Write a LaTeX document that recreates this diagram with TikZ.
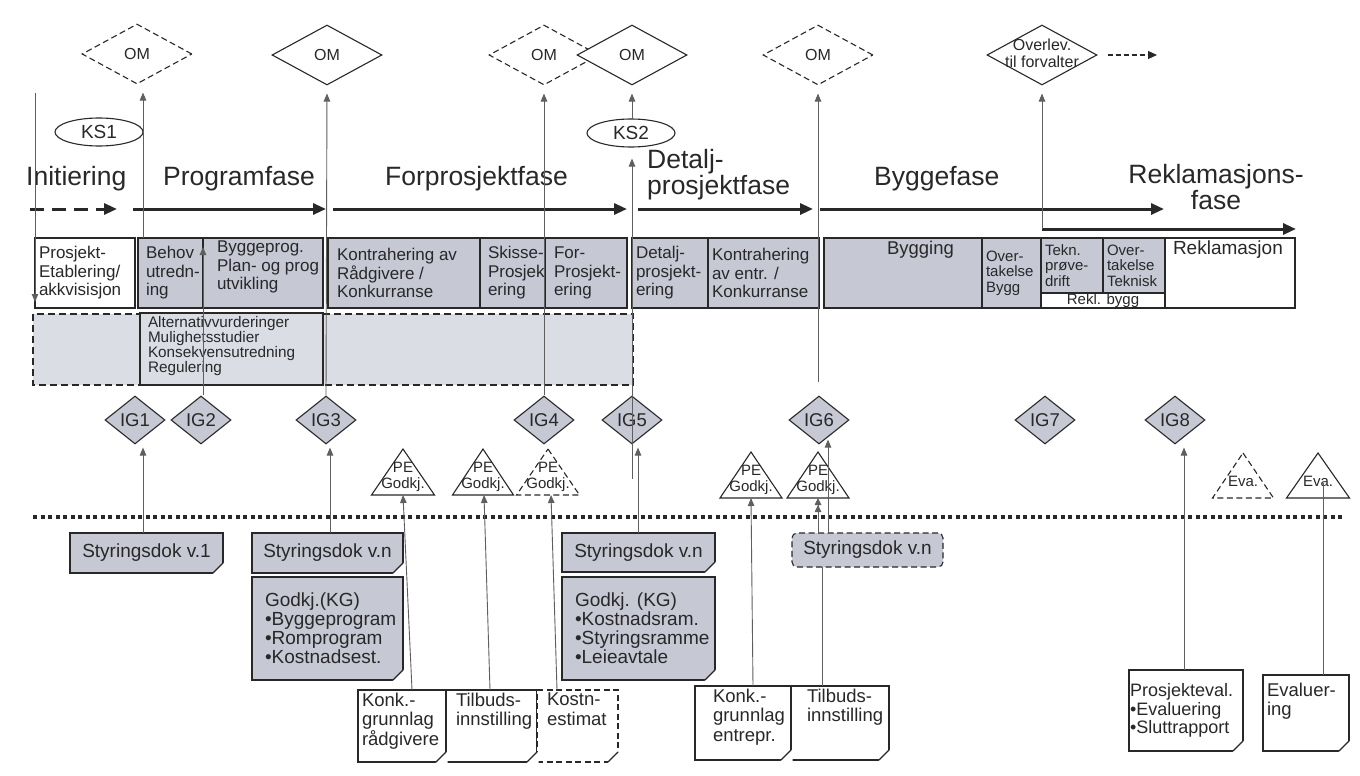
\documentclass[tikz,border=0pt]{standalone}
\usepackage{fontspec}
\setmainfont{Liberation Sans}
\usetikzlibrary{arrows.meta,shapes.geometric,calc}

\definecolor{ink}{RGB}{40,40,40}
\definecolor{wire}{RGB}{95,95,95}
\definecolor{boxgray}{RGB}{198,200,212}
\definecolor{areagray}{RGB}{219,221,229}

\newcommand\fsz[2]{\fontsize{#1pt}{#2pt}\selectfont}
\newcommand\rowfont{\fsz{17}{18.5}}

% box from its corners: #1 name, #2 style, #3 vertical text position (t/c/b),
% #4,#5 top-left corner, #6,#7 bottom-right corner, #8 text
\newcommand\pbox[8]{%
  \pgfmathsetmacro\boxw{#6-#4-8}%
  \pgfmathsetmacro\boxh{#7-#5-6}%
  \node[#2, anchor=north west, inner xsep=4pt, inner ysep=3pt, outer sep=0pt] (#1) at (#4,#5)
    {\parbox[c][\boxh pt][#3]{\boxw pt}{#8}};%
}

% folded lower-right corner of a document box
\newcommand\fold[2][]{%
  \fill[white] ($(#2.south east)+(-11,1.5)$) -- ($(#2.south east)+(1.5,1.5)$) -- ($(#2.south east)+(1.5,-11)$) -- cycle;
  \draw[ink, line width=1.1pt, line join=round, #1] ($(#2.south east)+(-10,0)$) -- ($(#2.south east)+(0,-10)$)
     .. controls ($(#2.south east)+(-6,-4)$) .. ($(#2.south east)+(-10,0)$);
}

% triangle marker: #2 x of apex, #3 y of apex, #4 y of base, #5 half base width
\newcommand\tri[5][]{\draw[frame,#1] (#2,#3) -- (#2+#5,#4) -- (#2-#5,#4) -- cycle;}

\tikzset{
  every node/.style={text=ink},
  frame/.style={draw=ink, line width=1.1pt},
  dashline/.style={dash pattern=on 6pt off 3.5pt},
  grayframe/.style={frame, fill=boxgray},
  whiteframe/.style={frame, fill=white},
  phase/.style={draw=ink, line width=3pt, -{Triangle[length=13pt,width=11pt]}},
  wire/.style={draw=wire, line width=0.9pt},
  wirearrow/.style={wire, -{Triangle[length=8pt,width=6.5pt]}, shorten >=#1},
  wirearrow/.default=0pt,
  omd/.style={diamond, frame, fill=white, minimum width=110pt, minimum height=60pt, inner sep=0pt,
              font=\fsz{16}{17}, align=center},
  igd/.style={diamond, frame, fill=boxgray, minimum width=60pt, minimum height=48pt, inner sep=0pt,
              font=\fsz{18.5}{19}},
  ksell/.style={ellipse, frame, fill=white, minimum width=88pt, minimum height=28pt, inner sep=0pt,
              font=\fsz{19}{20}},
  phasetext/.style={inner sep=0pt, font=\fsz{26.5}{26}},
  tritext/.style={inner sep=0pt, font=\fsz{15}{15.5}, align=center},
}

\begin{document}
\begin{tikzpicture}[x=1pt,y=-1pt]
\useasboundingbox (0,0) rectangle (1360,776);
\fill[white] (0,0) rectangle (1360,776);

% ---------- activity area of the early phases ----------
\path[draw=ink, line width=1.1pt, dash pattern=on 7pt off 4pt, fill=areagray] (33,314) rectangle (633,385);
\pbox{alt}{frame, fill=areagray}{t}{140}{313}{323}{385}{\fsz{15.3}{15}\leftskip=4pt Alternativvurderinger\\Mulighetsstudier\\Konsekvensutredning\\Regulering}

% ---------- activity row ----------
\pbox{etab}{whiteframe}{c}{35}{238}{135}{308}{\rowfont Prosjekt-\\Etablering/\\akkvisisjon}
\pbox{behov}{grayframe}{c}{138}{238}{203}{308}{\rowfont\leftskip=4pt Behov\\\mbox{utredn-}\\ing}
\pbox{bprog}{grayframe}{t}{203}{238}{323}{308}{\rowfont\leftskip=10pt Byggeprog.\\Plan- og prog\\utvikling}
\pbox{kontr}{grayframe}{c}{328}{238}{480}{308}{\rowfont\leftskip=5pt Kontrahering av\\Rådgivere /\\Konkurranse}
\pbox{skisse}{grayframe}{c}{480}{238}{545}{308}{\rowfont\leftskip=4pt \mbox{Skisse-}\\\mbox{Prosjekt}\\\mbox{ering}}
\pbox{forpr}{grayframe}{c}{545}{238}{627}{308}{\rowfont\leftskip=5pt \mbox{For-}\\\mbox{Prosjekt-}\\\mbox{ering}}
\pbox{detalj}{grayframe}{c}{632}{238}{708}{308}{\rowfont\mbox{Detalj-}\\\mbox{prosjekt-}\\ering}
\pbox{kentr}{grayframe}{c}{708}{238}{819}{308}{\rowfont Kontrahering\\av entr. /\\Konkurranse}
\pbox{bygging}{grayframe}{t}{824}{238}{982}{308}{\fsz{18.5}{19}\hspace*{59pt}Bygging}
\pbox{overb}{grayframe}{c}{982}{238}{1041}{308}{\fsz{15}{15.5}\mbox{Over-}\\\mbox{takelse}\\Bygg}
\pbox{tekn}{grayframe}{c}{1041}{238}{1103}{293}{\fsz{15}{15.5}\mbox{Tekn.}\\\mbox{prøve-}\\drift}
\pbox{overt}{grayframe}{c}{1103}{238}{1165}{293}{\fsz{15}{15.5}\mbox{Over-}\\\mbox{takelse}\\\mbox{Teknisk}}
\pbox{reklb}{whiteframe}{c}{1041}{293}{1165}{308}{\centering\fsz{15}{15}Rekl. bygg}
\pbox{rekl}{whiteframe}{t}{1165}{238}{1295}{308}{\fsz{19}{19}\leftskip=4pt Reklamasjon}

% ---------- phase timeline ----------
\coordinate (p0a) at (30,209);   \coordinate (p0b) at (117,209);
\coordinate (p1a) at (133,209);  \coordinate (p1b) at (326,209);
\coordinate (p2a) at (333,209);  \coordinate (p2b) at (627,209);
\coordinate (p3a) at (638,209);  \coordinate (p3b) at (813,209);
\coordinate (p4a) at (820,209);  \coordinate (p4b) at (1164,209);
\coordinate (reklStart) at (1042,229); \coordinate (reklEnd) at (1296,229);
\draw[phase, dash pattern=on 14pt off 8pt] (p0a) -- (p0b);
\draw[phase] (p1a) -- (p1b);
\draw[phase] (p2a) -- (p2b);
\draw[phase] (p3a) -- (p3b);
\draw[phase] (p4a) -- (p4b);
\draw[phase] (reklStart) -- (reklEnd);

\node[phasetext, anchor=base west] (lInit) at (26,185) {Initiering};
\node[phasetext, anchor=base west] (lProg) at (163,185) {Programfase};
\node[phasetext, anchor=base west] (lForp) at (385,185) {Forprosjektfase};
\node[phasetext, anchor=north west, align=left] (lDet) at (647,149) {Detalj-\\prosjektfase};
\node[phasetext, anchor=base west] (lBygg) at (874,185) {Byggefase};
\node[phasetext, anchor=north, align=center] (lRekl) at (1216,164) {Reklamasjons-\\fase};

% ---------- decision points ----------
\node[omd, dashline] (om1) at (137,54) {OM};
\node[omd] (om2) at (327,55) {OM};
\node[omd, dashline] (om3) at (544,55) {OM};
\node[omd] (om4) at (632,55) {OM};
\node[omd, dashline] (om5) at (818,55) {OM};
\node[omd] (om6) at (1042,55) {};
\node[tritext, font=\fsz{16}{17}] (om6t) at (1042,53) {Overlev.\\til forvalter};
\coordinate (handover) at (1157,55);
\draw[draw=ink, line width=1.1pt, dash pattern=on 5pt off 3pt, -{Triangle[length=9pt,width=8pt]}]
  ($(om6.east)+(10,0)$) -- (handover);

\node[ksell] (ks1) at (99,132) {KS1};
\node[ksell] (ks2) at (631,133) {KS2};

\node[igd] (ig1) at (135,420) {IG1};
\node[igd] (ig2) at (201,420) {IG2};
\node[igd] (ig3) at (326,420) {IG3};
\node[igd] (ig4) at (544,420) {IG4};
\node[igd] (ig5) at (632,420) {IG5};
\node[igd] (ig6) at (819,420) {IG6};
\node[igd] (ig7) at (1045,420) {IG7};
\node[igd] (ig8) at (1175,420) {IG8};

% approval and evaluation markers
\tri{403}{449}{495}{31.5}
\tri{483}{449}{495}{30.5}
\tri[dashline]{548}{449}{495}{31.5}
\tri{751}{452}{498}{31}
\tri{818}{452}{498}{31}
\tri[dashline]{1243}{453}{498}{30.5}
\tri{1318}{453}{498}{31.5}
\node[tritext] (pe1) at (403,477) {PE\\Godkj.};
\node[tritext] (pe2) at (483,477) {PE\\Godkj.};
\node[tritext] (pe3) at (548,477) {PE\\Godkj.};
\node[tritext] (pe4) at (751,480) {PE\\Godkj.};
\node[tritext] (pe5) at (818,480) {PE\\Godkj.};
\node[tritext] (eva1) at (1243,481) {Eva.};
\node[tritext] (eva2) at (1318,481) {Eva.};
\coordinate (pe1b) at (403,495);
\coordinate (pe2b) at (484,495);
\coordinate (pe3b) at (551,495);
\coordinate (pe4b) at (751,498);
\coordinate (pe5b) at (818,498);
\coordinate (eva2b) at (1323,483);

% divider between management level and project level
\draw[ink, line width=4pt, dash pattern=on 4pt off 3.5pt] (33,517) -- (1343,517);

% ---------- documents ----------
\pbox{sd1}{grayframe}{c}{70}{533}{223}{573}{\centering\fsz{19}{20}Styringsdok v.1}
\pbox{sd2}{grayframe}{c}{252}{533}{403}{573}{\centering\fsz{19}{20}Styringsdok v.n}
\pbox{kg1}{grayframe}{c}{252}{577}{403}{680}{\fsz{19}{19}\leftskip=9pt Godkj.(KG)\\•Byggeprogram\\•Romprogram\\•Kostnadsest.}
\pbox{sd3}{grayframe}{c}{562}{533}{715}{572}{\centering\fsz{19}{20}Styringsdok v.n}
\pbox{kg2}{grayframe}{c}{562}{577}{715}{680}{\fsz{19}{19}\leftskip=9pt Godkj. (KG)\\•Kostnadsram.\\\mbox{•Styringsramme}\\•Leieavtale}
\pbox{sd4}{frame, dashline, fill=boxgray, rounded corners=5pt}{c}{792}{533}{943}{567}{\centering\fsz{19}{20}Styringsdok v.n}

\pbox{kr1}{whiteframe}{t}{358}{690}{446}{762}{\fsz{18.5}{19.5}Konk.-\\grunnlag\\\mbox{rådgivere}}
\pbox{tb1}{whiteframe}{t}{446}{690}{537}{762}{\fsz{18.5}{19.5}\leftskip=6pt Tilbuds-\\\mbox{innstilling}}
\pbox{kostn}{frame, dashline, fill=white}{t}{537}{690}{618}{762}{\fsz{18.5}{19.5}\leftskip=6pt Kostn-\\estimat}
\pbox{ke1}{whiteframe}{t}{695}{686}{791}{760}{\fsz{18.5}{19.5}\leftskip=14pt Konk.-\\\mbox{grunnlag}\\entrepr.}
\pbox{tb2}{whiteframe}{t}{791}{686}{889}{760}{\fsz{18.5}{19.5}\leftskip=12pt Tilbuds-\\\mbox{innstilling}}
\pbox{pev}{whiteframe}{c}{1129}{670}{1243}{751}{\fsz{18}{18.5}\leftskip=-3pt \mbox{Prosjekteval.}\\•Evaluering\\•Sluttrapport}
\pbox{ev}{whiteframe}{t}{1263}{675}{1349}{751}{\fsz{18.5}{19}\vspace*{5pt}Evaluer-\\ing}

\fold{sd1} \fold{sd2} \fold{kg1} \fold{sd3} \fold{kg2}
\fold{kr1} \fold{tb1} \fold[dashline]{kostn} \fold{ke1} \fold{tb2}
\fold{pev} \fold{ev}

% ---------- connectors ----------
\coordinate (initTop) at (35,93);
\coordinate (initBot) at (35,302);
\draw[wirearrow] (initTop) -- (initBot);

\draw[wirearrow=8pt] ($(behov.north west)+(5,0)$) -- ($(om1.south)+(6,0)$);
\draw[wirearrow=8pt] (ig3.north) -- (om2.south);
\draw[wirearrow=8pt] (ig4.north) -- (om3.south);
\draw[wirearrow=11pt] ($(ig5.south)+(0,34)$) -- (ks2.south -| ig5.south);
\draw[wirearrow=8pt] (ks2.north -| om4.south) -- (om4.south);
\draw[wirearrow=8pt] ($(ig6.north)+(-1,-13)$) -- (om5.south);
\draw[wirearrow=8pt] (reklStart) -- (om6.south);
\draw[wirearrow] ($(ig2.north)+(2,0)$) -- ($(behov.north east)+(0,9)$);

\draw[wirearrow=3pt] ($(sd1.north west)+(73,0)$) -- ($(ig1.south)+(8,0)$);
\draw[wirearrow=3pt] ($(sd2.north west)+(78,0)$) -- ($(ig3.south)+(4,0)$);
\draw[wirearrow=3pt] ($(sd3.north west)+(76,0)$) -- ($(ig5.south)+(6,0)$);
\draw[wirearrow=1pt] ($(sd4.north west)+(36,0)$) -- ($(ig6.south)+(9,-6)$);
\draw[wirearrow=3pt] ($(pev.north west)+(55,0)$) -- ($(ig8.south)+(9,0)$);

\draw[wirearrow] ($(kr1.north west)+(54,0)$) -- (pe1b);
\draw[wirearrow] ($(tb1.north west)+(44,0)$) -- (pe2b);
\draw[wirearrow] ($(kostn.north west)+(20,0)$) -- (pe3b);
\draw[wirearrow] ($(ke1.north west)+(58,0)$) -- (pe4b);
\draw[wire] ($(tb2.north west)+(31,0)$) -- ($(sd4.south west)+(30,0)$);
\draw[wire, -{Triangle[length=7pt,width=6.5pt] Triangle[length=7pt,width=6.5pt]}]
  ($(sd4.north west)+(26,0)$) -- (pe5b);
\draw[wire] ($(ev.north west)+(60,0)$) -- (eva2b);
\end{tikzpicture}
\end{document}
